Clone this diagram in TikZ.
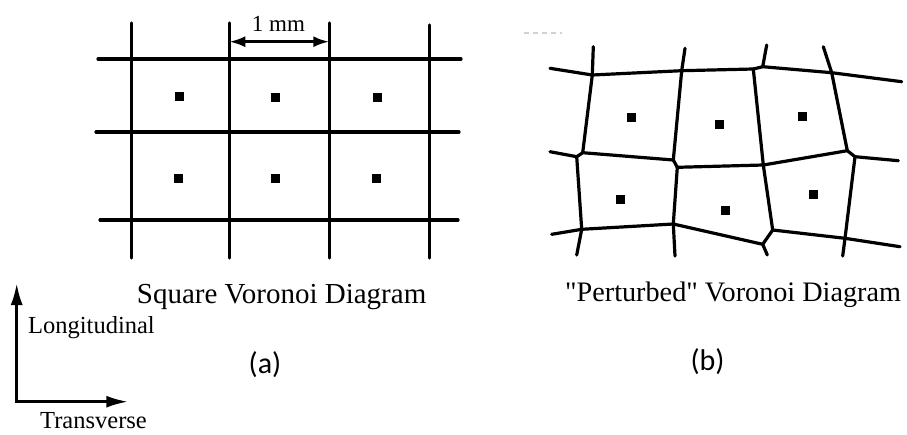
\documentclass[tikz,border=0pt]{standalone}
\usepackage{fontspec}
\setmainfont{Liberation Serif}
\newfontfamily\rawserif{Liberation Serif}[Ligatures=TeXOff]
\newfontfamily\calib{Carlito}
\usetikzlibrary{arrows.meta}
\begin{document}
\begin{tikzpicture}[x=1pt,y=-1pt,
  edge/.style={line width=3.2pt, line cap=round, line join=round},
  site/.style={fill=black, minimum size=9pt, inner sep=0pt, draw=none, rectangle},
  lbl/.style={inner sep=0pt, font=\fontsize{29}{34}\selectfont},
  axlbl/.style={inner sep=0pt, font=\fontsize{24.5}{28}\selectfont},
  sub/.style={inner sep=0pt, font=\calib\fontsize{30}{36}\selectfont},
  dimarrow/.style={line width=2.8pt, {Latex[length=16pt,width=11pt]}-{Latex[length=16pt,width=11pt]}},
  axarrow/.style={line width=3pt, -{Latex[length=22pt,width=12pt]}}]
\useasboundingbox (0,0) rectangle (907,434);

% ---------- square Voronoi grid ----------
\foreach \i/\x/\t/\b in {1/131.7/23/258, 2/229.3/23/258, 3/329.3/23/258, 4/429.3/25/258}{
  \coordinate (vt\i) at (\x,\t);
  \coordinate (vb\i) at (\x,\b);
  \draw[edge] (vt\i) -- (vb\i);
}
\foreach \j/\y/\l/\r in {1/59/98/461, 2/132/96/459, 3/220/100/458}{
  \coordinate (hl\j) at (\l,\y);
  \coordinate (hr\j) at (\r,\y);
  \draw[edge] (hl\j) -- (hr\j);
}
\node[site] (s11) at (179.3,96.7) {};
\node[site] (s12) at (275.7,97.3) {};
\node[site] (s13) at (377.3,97.3) {};
\node[site] (s21) at (178.3,178.3) {};
\node[site] (s22) at (275,178.3) {};
\node[site] (s23) at (376,178.3) {};

\coordinate (dimL) at (229.3,41.7);
\coordinate (dimR) at (329.3,41.7);
\draw[dimarrow] (dimL) -- (dimR);
\node[axlbl, font=\fontsize{23}{27}\selectfont, anchor=base west] (onemm) at (251.7,31.7) {1 mm};

\node[lbl, anchor=base west] (capA) at (136.7,303.3) {Square Voronoi Diagram};
\node[sub] (subA) at (265,365) {(a)};

% ---------- axes ----------
\coordinate (ax0) at (16.7,401.7);
\coordinate (axUp) at (16.7,283);
\coordinate (axRt) at (128.3,401.7);
\draw[axarrow, line cap=rect] (ax0) -- (axUp);
\draw[axarrow, line cap=rect] (ax0) -- (axRt);
\node[axlbl, anchor=base west] (longi) at (28,333.3) {Longitudinal};
\node[axlbl, anchor=base west] (trans) at (40,428.3) {Transverse};

% ---------- perturbed Voronoi ----------
\coordinate (TL) at (550,68.3);
\coordinate (A1) at (592.3,75);
\coordinate (A1s) at (593.3,46.7);
\coordinate (A2) at (681.7,70.7);
\coordinate (A2s) at (685,48.3);
\coordinate (A3a) at (753.3,69);
\coordinate (A3b) at (762.7,66.7);
\coordinate (A3s) at (766.7,45);
\coordinate (A4) at (831.7,72.7);
\coordinate (A4s) at (823.3,46.7);
\coordinate (TR) at (901.7,81.7);

\coordinate (ML) at (550,151.7);
\coordinate (B1a) at (582.7,152.7);
\coordinate (B1b) at (576.7,156.7);
\coordinate (B2a) at (673.3,160);
\coordinate (B2b) at (677.3,167.3);
\coordinate (B3) at (763.3,165);
\coordinate (B4a) at (847.3,150.7);
\coordinate (B4b) at (855,156.7);
\coordinate (MR) at (898.3,160.7);

\coordinate (BL) at (551.7,234.3);
\coordinate (C1) at (581.7,229.3);
\coordinate (C1s) at (576.7,255);
\coordinate (C2) at (673.3,224);
\coordinate (C2s) at (675,256);
\coordinate (C3a) at (762.7,244.3);
\coordinate (C3s) at (767.3,255);
\coordinate (C3b) at (772.7,230);
\coordinate (C4) at (845,238.3);
\coordinate (C4s) at (842.7,256);
\coordinate (BR) at (900,246.7);

% horizontal chains
\draw[edge] (TL) -- (A1) -- (A2) -- (A3a) -- (A3b) -- (A4) -- (TR);
\draw[edge] (ML) -- (B1b) -- (B1a) -- (B2a) -- (B2b) -- (B3) -- (B4a) -- (B4b) -- (MR);
\draw[edge] (BL) -- (C1) -- (C2) -- (C3a) -- (C3b) -- (C4) -- (BR);
% top stubs
\draw[edge] (A1s) -- (A1);
\draw[edge] (A2s) -- (A2);
\draw[edge] (A3s) -- (A3b);
\draw[edge] (A4s) -- (A4);
% verticals
\draw[edge] (A1) -- (B1a);
\draw[edge] (A2) -- (B2a);
\draw[edge] (A3a) -- (B3);
\draw[edge] (A4) -- (B4a);
\draw[edge] (B1b) -- (C1);
\draw[edge] (B2b) -- (C2);
\draw[edge] (B3) -- (C3b);
\draw[edge] (B4b) -- (C4);
% bottom stubs
\draw[edge] (C1) -- (C1s);
\draw[edge] (C2) -- (C2s);
\draw[edge] (C3a) -- (C3s);
\draw[edge] (C4) -- (C4s);

\node[site] (p11) at (631,117.3) {};
\node[site] (p12) at (719.3,124.3) {};
\node[site] (p13) at (802.3,116.7) {};
\node[site] (p21) at (620.7,199.3) {};
\node[site] (p22) at (725.3,210.7) {};
\node[site] (p23) at (813.3,194) {};

% faint scan remnant
\coordinate (fm1) at (524,33);
\coordinate (fm2) at (562,33);
\draw[gray!35, line width=1.4pt, dash pattern=on 5pt off 4pt] (fm1) -- (fm2);

\node[lbl, font=\rawserif\fontsize{28.2}{33}\selectfont, anchor=base west] (capB) at (565,301.7) {"Perturbed" Voronoi Diagram};
\node[sub] (subB) at (707.5,361.7) {(b)};
\end{tikzpicture}
\end{document}
